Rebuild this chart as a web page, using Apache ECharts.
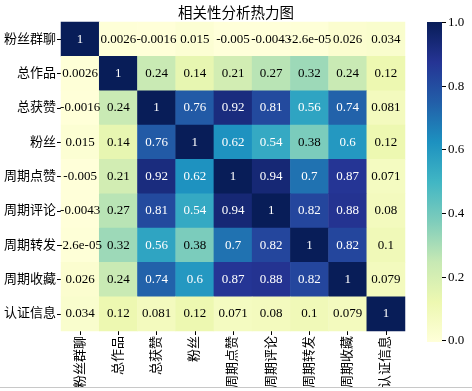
<!DOCTYPE html>
<html>
<head>
<meta charset="utf-8">
<script src="https://cdn.jsdelivr.net/npm/echarts@6/dist/echarts.min.js"></script>
<style>
  html, body { margin: 0; padding: 0; background: #fff; }
  #chart { width: 472px; height: 391px; }
</style>
</head>
<body>
<div id="chart"></div>
<script>
// 变量名
const labels = ['粉丝群聊', '总作品', '总获赞', '粉丝', '周期点赞', '周期评论', '周期转发', '周期收藏', '认证信息']

// 相关系数矩阵，每行一个数组
const corrRows = [
  [1, 0.0026, -0.0016, 0.015, -0.005, -0.0043, -2.6e-05, 0.026, 0.034],
  [0.0026, 1, 0.24, 0.14, 0.21, 0.27, 0.32, 0.24, 0.12],
  [-0.0016, 0.24, 1, 0.76, 0.92, 0.81, 0.56, 0.74, 0.081],
  [0.015, 0.14, 0.76, 1, 0.62, 0.54, 0.38, 0.6, 0.12],
  [-0.005, 0.21, 0.92, 0.62, 1, 0.94, 0.7, 0.87, 0.071],
  [-0.0043, 0.27, 0.81, 0.54, 0.94, 1, 0.82, 0.88, 0.08],
  [-2.6e-05, 0.32, 0.56, 0.38, 0.7, 0.82, 1, 0.82, 0.1],
  [0.026, 0.24, 0.74, 0.6, 0.87, 0.88, 0.82, 1, 0.079],
  [0.034, 0.12, 0.081, 0.12, 0.071, 0.08, 0.1, 0.079, 1]
]

// 色条刻度
const colorTicks = [0, 0.2, 0.4, 0.6, 0.8, 1.0]

// YlGnBu
const ylgnbu = ['#ffffd9', '#edf8b1', '#c7e9b4', '#7fcdbb', '#41b6c4', '#1d91c0', '#225ea8', '#253494', '#081d58']

const FONT = '"Liberation Serif", "Noto Sans CJK SC", serif'

// 类似 python 的 .2g 格式
const fmt2g = (v) => {
  if (v === 0) return '0'
  const e = Math.floor(Math.log10(Math.abs(v)))
  if (e < -4 || e >= 2) {
    let s = v.toExponential(1)
    return s.replace(/e([+-])(\d)$/, 'e$10$2')
  }
  return parseFloat(v.toPrecision(2)).toString()
}

const allValues = corrRows.flat()
const vmin = Math.min(...allValues)
const vmax = Math.max(...allValues)

const heatData = []
corrRows.forEach((row, r) => {
  row.forEach((v, c) => {
    heatData.push({
      value: [c, r, v],
      label: { color: v > 0.45 ? '#fff' : '#000' }
    })
  })
})

// 色条
const barX = 427
const barW = 15
const barTop = 22
const barH = 320
const barStops = ylgnbu.map((c, i) => ({ offset: i / (ylgnbu.length - 1), color: c }))
const valToY = (v) => barTop + barH * (vmax - v) / (vmax - vmin)

const colorbar = [
  {
    type: 'rect',
    shape: { x: barX, y: barTop, width: barW, height: barH },
    style: { fill: new echarts.graphic.LinearGradient(0, 1, 0, 0, barStops) }
  }
]
colorTicks.forEach((t) => {
  const y = Math.round(valToY(t)) + 0.5
  colorbar.push({
    type: 'line',
    shape: { x1: barX + barW, y1: y, x2: barX + barW + 4, y2: y },
    style: { stroke: '#000', lineWidth: 1 }
  })
  colorbar.push({
    type: 'text',
    x: barX + barW + 6,
    y: y,
    style: {
      text: t.toFixed(1),
      font: '13px ' + FONT,
      fill: '#000',
      verticalAlign: 'middle',
      align: 'left'
    }
  })
})

const myChart = echarts.init(document.getElementById('chart'))
const options = {
  backgroundColor: '#fff',
  animation: false,
  title: {
    text: '相关性分析热力图',
    left: 173,
    top: 2,
    textStyle: { fontFamily: FONT, fontSize: 14.5, fontWeight: 'normal', color: '#000' }
  },
  grid: { left: 61, top: 22, width: 344, height: 320 },
  xAxis: {
    type: 'category',
    data: labels,
    splitArea: { show: false },
    axisLine: { show: false },
    axisTick: { show: true, alignWithLabel: true, length: 4, lineStyle: { color: '#000' } },
    axisLabel: { rotate: 90, fontSize: 13, fontFamily: FONT, color: '#000', margin: 5 }
  },
  yAxis: {
    type: 'category',
    data: labels,
    inverse: true,
    splitArea: { show: false },
    axisLine: { show: false },
    axisTick: { show: true, alignWithLabel: true, length: 4, lineStyle: { color: '#000' } },
    axisLabel: { fontSize: 13, fontFamily: FONT, color: '#000', margin: 5 }
  },
  visualMap: {
    type: 'continuous',
    show: false,
    min: vmin,
    max: vmax,
    seriesIndex: 0,
    inRange: { color: ylgnbu }
  },
  graphic: colorbar.concat([
    {
      type: 'rect',
      shape: { x: 0, y: 388, width: 472, height: 3 },
      style: { fill: '#fff' },
      z: 99
    },
    {
      type: 'line',
      shape: { x1: 0, y1: 387.5, x2: 472, y2: 387.5 },
      style: { stroke: '#c8c8c8', lineWidth: 1 },
      z: 100
    }
  ]),
  series: [
    {
      type: 'heatmap',
      data: heatData,
      label: {
        show: true,
        fontSize: 13,
        fontFamily: FONT,
        formatter: (p) => fmt2g(p.value[2])
      },
      emphasis: { disabled: true }
    }
  ]
}
myChart.setOption(options)
</script>
</body>
</html>
